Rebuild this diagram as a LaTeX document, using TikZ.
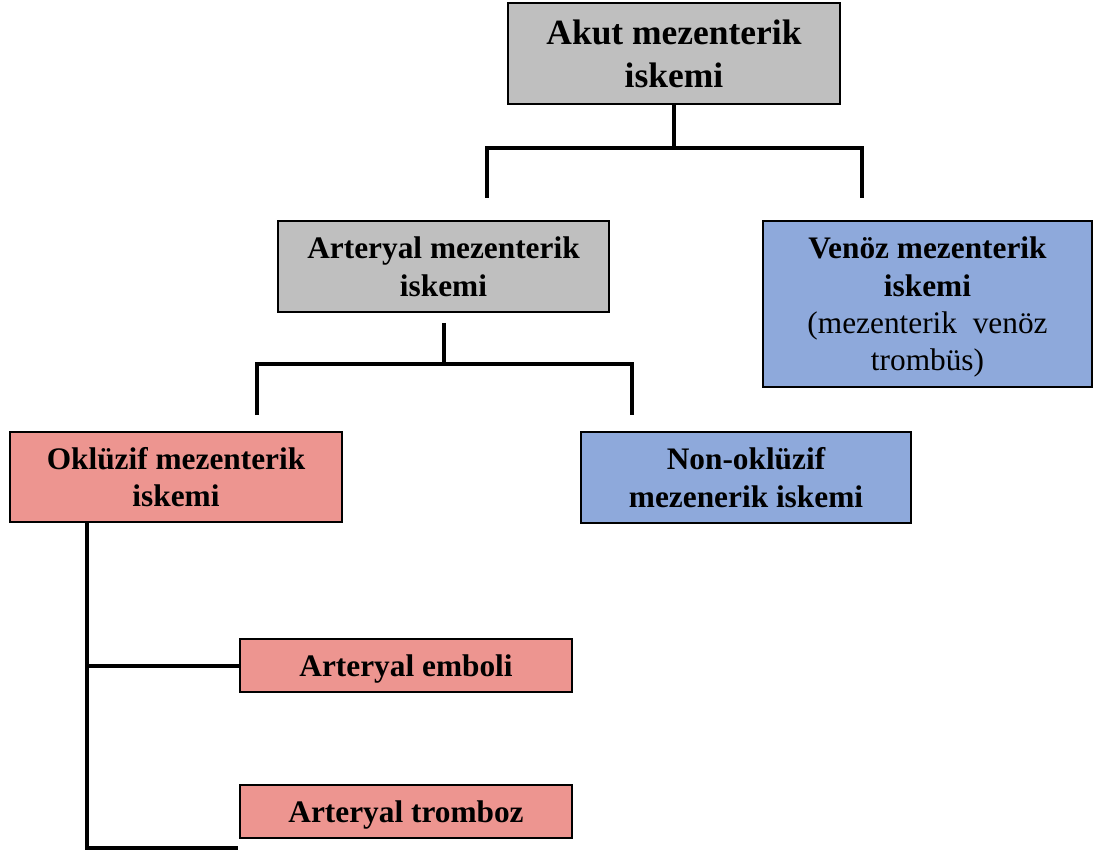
\documentclass[tikz,border=0pt]{standalone}
\usepackage{fontspec}
\setmainfont{Liberation Serif}
\usetikzlibrary{positioning}

\definecolor{boxgray}{HTML}{BFBFBF}
\definecolor{boxblue}{HTML}{8EA9DB}
\definecolor{boxpink}{HTML}{ED9590}

\begin{document}
\begin{tikzpicture}[x=0.75pt, y=-0.75pt,
 box/.style={draw, line width=1.6pt, align=center, inner sep=0pt,
  font=\fontsize{23.5}{28}\selectfont\bfseries, text depth=0pt},
 conn/.style={line width=3pt, line join=miter}]
 \useasboundingbox (0,0) rectangle (1096,852);
 % boxes
 \node[box, fill=boxgray, minimum width=249pt, minimum height=75.5pt,
  font=\fontsize{26.6}{32}\selectfont\bfseries] (akut) at (674,53.5)
  {Akut mezenterik\\iskemi};
 \node[box, fill=boxgray, minimum width=248pt, minimum height=68pt]
  (art) at (443.5,266.5) {Arteryal mezenterik\\iskemi};
 \node[box, fill=boxblue, minimum width=247pt, minimum height=124.5pt]
  (ven) at (927.5,304) {Venöz mezenterik\\iskemi\\
  \normalfont\fontsize{23.5}{28}\selectfont (mezenterik\ \ venöz\\
  \normalfont\fontsize{23.5}{28}\selectfont trombüs)};
 \node[box, fill=boxpink, minimum width=249pt, minimum height=68pt]
  (okl) at (176,477) {Oklüzif mezenterik\\iskemi};
 \node[box, fill=boxblue, minimum width=247.5pt, minimum height=68pt]
  (non) at (746,477.5) {Non-oklüzif\\mezenerik iskemi};
 \node[box, fill=boxpink, minimum width=249pt, minimum height=40pt]
  (emb) at (406,665.5) {Arteryal emboli};
 \node[box, fill=boxpink, minimum width=249pt, minimum height=40pt]
  (trm) at (406,811.5) {Arteryal tromboz};

 % first split
 \coordinate (bar1) at (674,148);
 \coordinate (a1) at (487,198);
 \coordinate (a2) at (862,198);
 \draw[conn] (akut.south) -- (akut.south |- bar1);
 \draw[conn] (a1) -- (a1 |- bar1) -- (a2 |- bar1) -- (a2);
 % second split
 \coordinate (bar2) at (444,364);
 \coordinate (b1) at (257,415);
 \coordinate (b2) at (632,415);
 \draw[conn] ([yshift=-7.5pt]art.south) -- (art.south |- bar2);
 \draw[conn] (b1) -- (b1 |- bar2) -- (b2 |- bar2) -- (b2);
 % spine
 \coordinate (sp) at (87,848);
 \coordinate (spend) at (238,848);
 \draw[conn] (okl.south -| sp) -- (sp) -- (spend);
 \draw[conn] (emb.west -| sp) -- (emb.west);
\end{tikzpicture}
\end{document}
